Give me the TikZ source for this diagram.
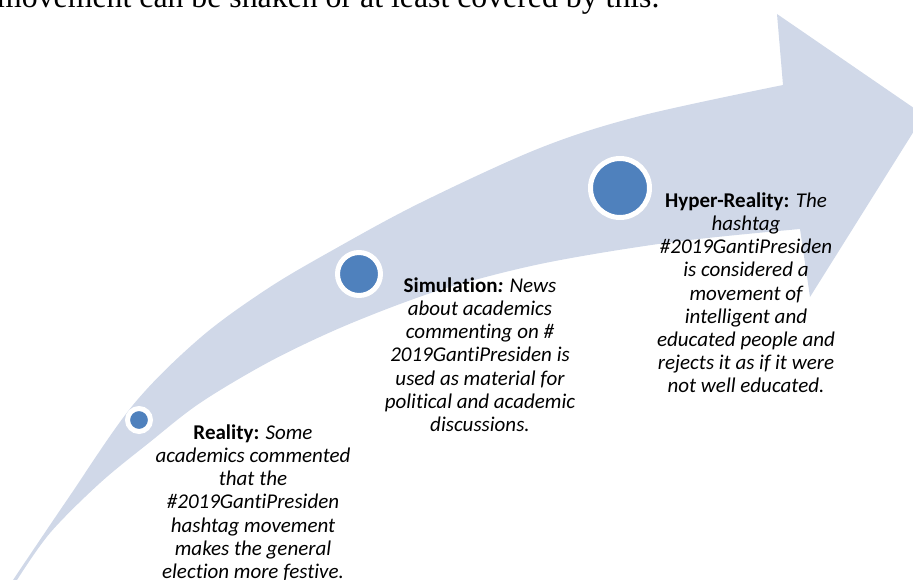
\documentclass[tikz,border=0pt]{standalone}
\usepackage{fontspec}
\setmainfont{Carlito}[Ligatures=NoCommon]
\newfontfamily\timesfont{Liberation Serif}
\definecolor{bandblue}{RGB}{208,216,232}
\definecolor{dotblue}{RGB}{79,129,189}
\newcommand\myrule{\rule{0pt}{16pt}}
\begin{document}
\begin{tikzpicture}[x=1pt,y=-1pt,
  dotnode/.style={circle, fill=dotblue, draw=white, line width=5pt, inner sep=0pt},
  steptext/.style={align=center, inner sep=0pt, anchor=north,
    font=\fontsize{21}{23.2}\selectfont\itshape}]
\useasboundingbox (0,0) rectangle (913,580);
\clip (0,0) rectangle (913,580);
% curved arrow
\fill[bandblue] (8,594)
  -- plot[smooth, tension=0.55] coordinates {(13,580) (67,500) (133,405) (200,338) (267,289) (333,250) (420,203) (540,148) (640,116) (783,85)}
  -- (777,14) -- (924,115) -- (810,297)
  -- plot[smooth, tension=0.55] coordinates {(800,229) (673,242) (550,262) (460,284) (400,304) (333,331) (267,363) (200,403) (150,442) (100,483) (50,533) (17,580)}
  -- cycle;
% top text (cut off)
\node[anchor=base west, inner sep=0pt, font=\timesfont\fontsize{31.8}{34}\selectfont] (toptext) at (-3,7.5) {movement can be shaken or at least covered by this.};
% circles
\node[dotnode, minimum size=23pt] (c1) at (139,420) {};
\node[dotnode, minimum size=43pt] (c2) at (359,274) {};
\node[dotnode, minimum size=59pt] (c3) at (620,188) {};
% texts
\node[steptext] (t1) at (253,423) {\myrule\textbf{\upshape Reality:} Some\\academics commented\\that the\\\#2019GantiPresiden\\hashtag movement\\makes the general\\election more festive.};
\node[steptext] (t2) at (480,276) {\myrule\textbf{\upshape Simulation}\textbf{:} News\\about academics\\commenting on \#\\2019GantiPresiden is\\used as material for\\political and academic\\discussions.};
\node[steptext] (t3) at (746,191) {\myrule\textbf{\upshape Hyper-Reality:} The\\hashtag\\\#2019GantiPresiden\\is considered a\\movement of\\intelligent and\\educated people and\\rejects it as if it were\\not well educated.};
\end{tikzpicture}
\end{document}
